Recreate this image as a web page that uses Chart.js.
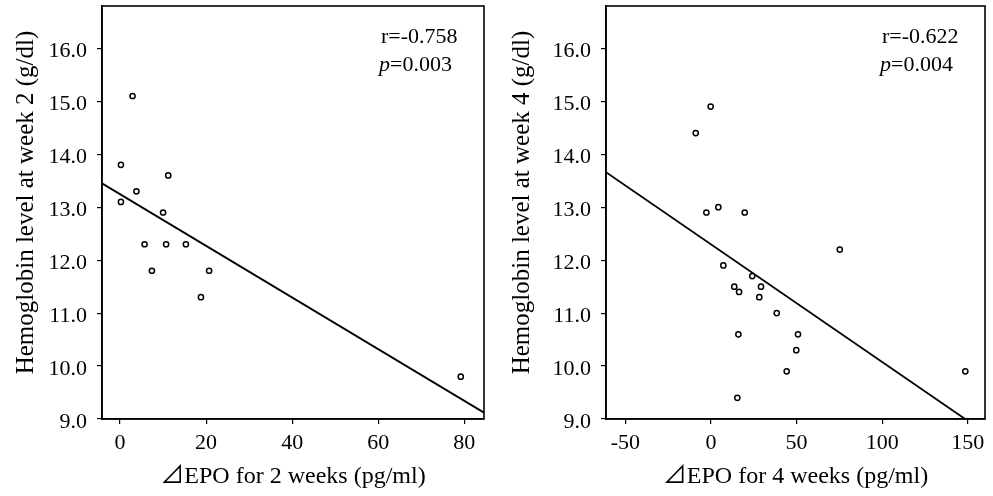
<!DOCTYPE html>
<html><head><meta charset="utf-8">
<script src="https://cdn.jsdelivr.net/npm/chart.js@4"></script>
<style>
html,body{margin:0;padding:0;background:#fff;}
#wrap{position:relative;width:993px;height:496px;overflow:hidden;background:#fff;}
.box{position:absolute;top:0;height:496px;}
</style></head><body>
<div id="wrap">
<div class="box" style="left:0;width:496px"><canvas id="c1"></canvas></div>
<div class="box" style="left:496px;width:497px"><canvas id="c2"></canvas></div>
</div>
<script>
// ---- Data ----
const epo2 = [0.2, 2.9, 0.2, 3.8, 11.2, 10.0, 5.7, 10.7, 15.3, 7.4, 20.7, 18.8, 79.2];
const hb2  = [13.8, 15.1, 13.1, 13.3, 13.6, 12.9, 12.3, 12.3, 12.3, 11.8, 11.8, 11.3, 9.8];
const epo4 = [-8.9, -0.2, -2.7, 4.3, 19.7, 75.2, 7.2, 24.1, 13.6, 16.4, 29.2, 28.2, 38.4, 16.0, 50.8, 49.8, 44.2, 15.4, 148.5];
const hb4  = [14.4, 14.9, 12.9, 13.0, 12.9, 12.2, 11.9, 11.7, 11.5, 11.4, 11.5, 11.3, 11.0, 10.6, 10.6, 10.3, 9.9, 9.4, 9.9];
// regression line endpoints
const fit2X = [-4.2, 84.6];
const fit2Y = [13.45, 9.12];
const fit4X = [-61.3, 148.4];
const fit4Y = [13.66, 9.0];
// ticks
const x2Ticks = [0, 20, 40, 60, 80];
const x4Ticks = [-50, 0, 50, 100, 150];
const yTicks = [9, 10, 11, 12, 13, 14, 15, 16];
// texts
const x2Title = "\u22BFEPO for 2 weeks (pg/ml)";
const x4Title = "\u22BFEPO for 4 weeks (pg/ml)";
const y2Title = "Hemoglobin level at week 2 (g/dl)";
const y4Title = "Hemoglobin level at week 4 (g/dl)";
const r2Text = "r=-0.758", p2Text = "=0.003";
const r4Text = "r=-0.622", p4Text = "=0.004";

const FONT = "'Liberation Serif','Times New Roman','Noto Sans CJK JP',serif";

function makeChart(id, xs, ys, fitX, fitY, xMin, xMax, xTicks, xTitle, yTitle, rText, pText, padRight, yWidth) {
  const pts = xs.map((x, i) => ({x: x, y: ys[i]}));
  const line = fitX.map((x, i) => ({x: x, y: fitY[i]}));
  const overlay = {
    id: 'overlay',
    afterDraw(chart) {
      const ctx = chart.ctx, a = chart.chartArea;
      ctx.save();
      ctx.strokeStyle = '#000'; ctx.lineWidth = 1.6;
      ctx.strokeRect(a.left, a.top, a.right - a.left, a.bottom - a.top);
      ctx.fillStyle = '#000';
      ctx.textAlign = 'left'; ctx.textBaseline = 'alphabetic';
      const ax = a.right - 103;
      ctx.font = '22px ' + FONT;
      ctx.fillText(rText, ax, a.top + 37);
      ctx.font = 'italic 22px ' + FONT;
      ctx.fillText('p', ax - 2, a.top + 64.5);
      const pw = ctx.measureText('p').width;
      ctx.font = '22px ' + FONT;
      ctx.fillText(pText, ax - 2 + pw, a.top + 64.5);
      ctx.translate(26, (a.top + a.bottom) / 2 - 10);
      ctx.rotate(-Math.PI / 2);
      ctx.font = '25px ' + FONT;
      ctx.textAlign = 'center'; ctx.textBaseline = 'middle';
      ctx.fillText(yTitle, 0, 0);
      ctx.restore();
    }
  };
  const gridOpt = {drawOnChartArea: false, drawTicks: true, tickLength: 5, color: '#000', lineWidth: 1.2};
  const borderOpt = {display: true, color: '#000', width: 1.6};
  return new Chart(document.getElementById(id), {
    type: 'scatter',
    data: {
      datasets: [
        {data: pts, pointRadius: 2.6, pointBorderWidth: 1.5, pointBackgroundColor: '#fff', pointBorderColor: '#000', showLine: false},
        {data: line, showLine: true, pointRadius: 0, borderColor: '#000', borderWidth: 1.8, fill: false}
      ]
    },
    options: {
      responsive: true, maintainAspectRatio: false, animation: false, devicePixelRatio: 1,
      layout: {padding: {left: 0, right: padRight, top: 6, bottom: 0}},
      plugins: {legend: {display: false}, tooltip: {enabled: false}},
      scales: {
        x: {
          type: 'linear', min: xMin, max: xMax,
          afterBuildTicks: s => { s.ticks = xTicks.map(v => ({value: v})); },
          afterFit: s => { s.height = 77; s.paddingLeft = 0; s.paddingRight = 0; },
          grid: gridOpt, border: borderOpt,
          ticks: {color: '#000', font: {family: FONT, size: 22}, padding: 6, maxRotation: 0, autoSkip: false},
          title: {display: true, text: xTitle, color: '#000', font: {family: FONT, size: 24}, padding: {top: 0, bottom: 5}}
        },
        y: {
          type: 'linear', min: 9, max: 16.8,
          afterBuildTicks: s => { s.ticks = yTicks.map(v => ({value: v})); },
          afterFit: s => { s.width = yWidth; s.paddingTop = 0; s.paddingBottom = 0; },
          grid: gridOpt, border: borderOpt,
          ticks: {color: '#000', font: {family: FONT, size: 22}, padding: 10, labelOffset: 3, autoSkip: false, callback: v => Number(v).toFixed(1)}
        }
      }
    },
    plugins: [overlay]
  });
}

makeChart('c1', epo2, hb2, fit2X, fit2Y, -4.2, 84.6, x2Ticks, x2Title, y2Title, r2Text, p2Text, 12, 102);
makeChart('c2', epo4, hb4, fit4X, fit4Y, -61.3, 160, x4Ticks, x4Title, y4Title, r4Text, p4Text, 8, 110);
</script>
</body></html>
